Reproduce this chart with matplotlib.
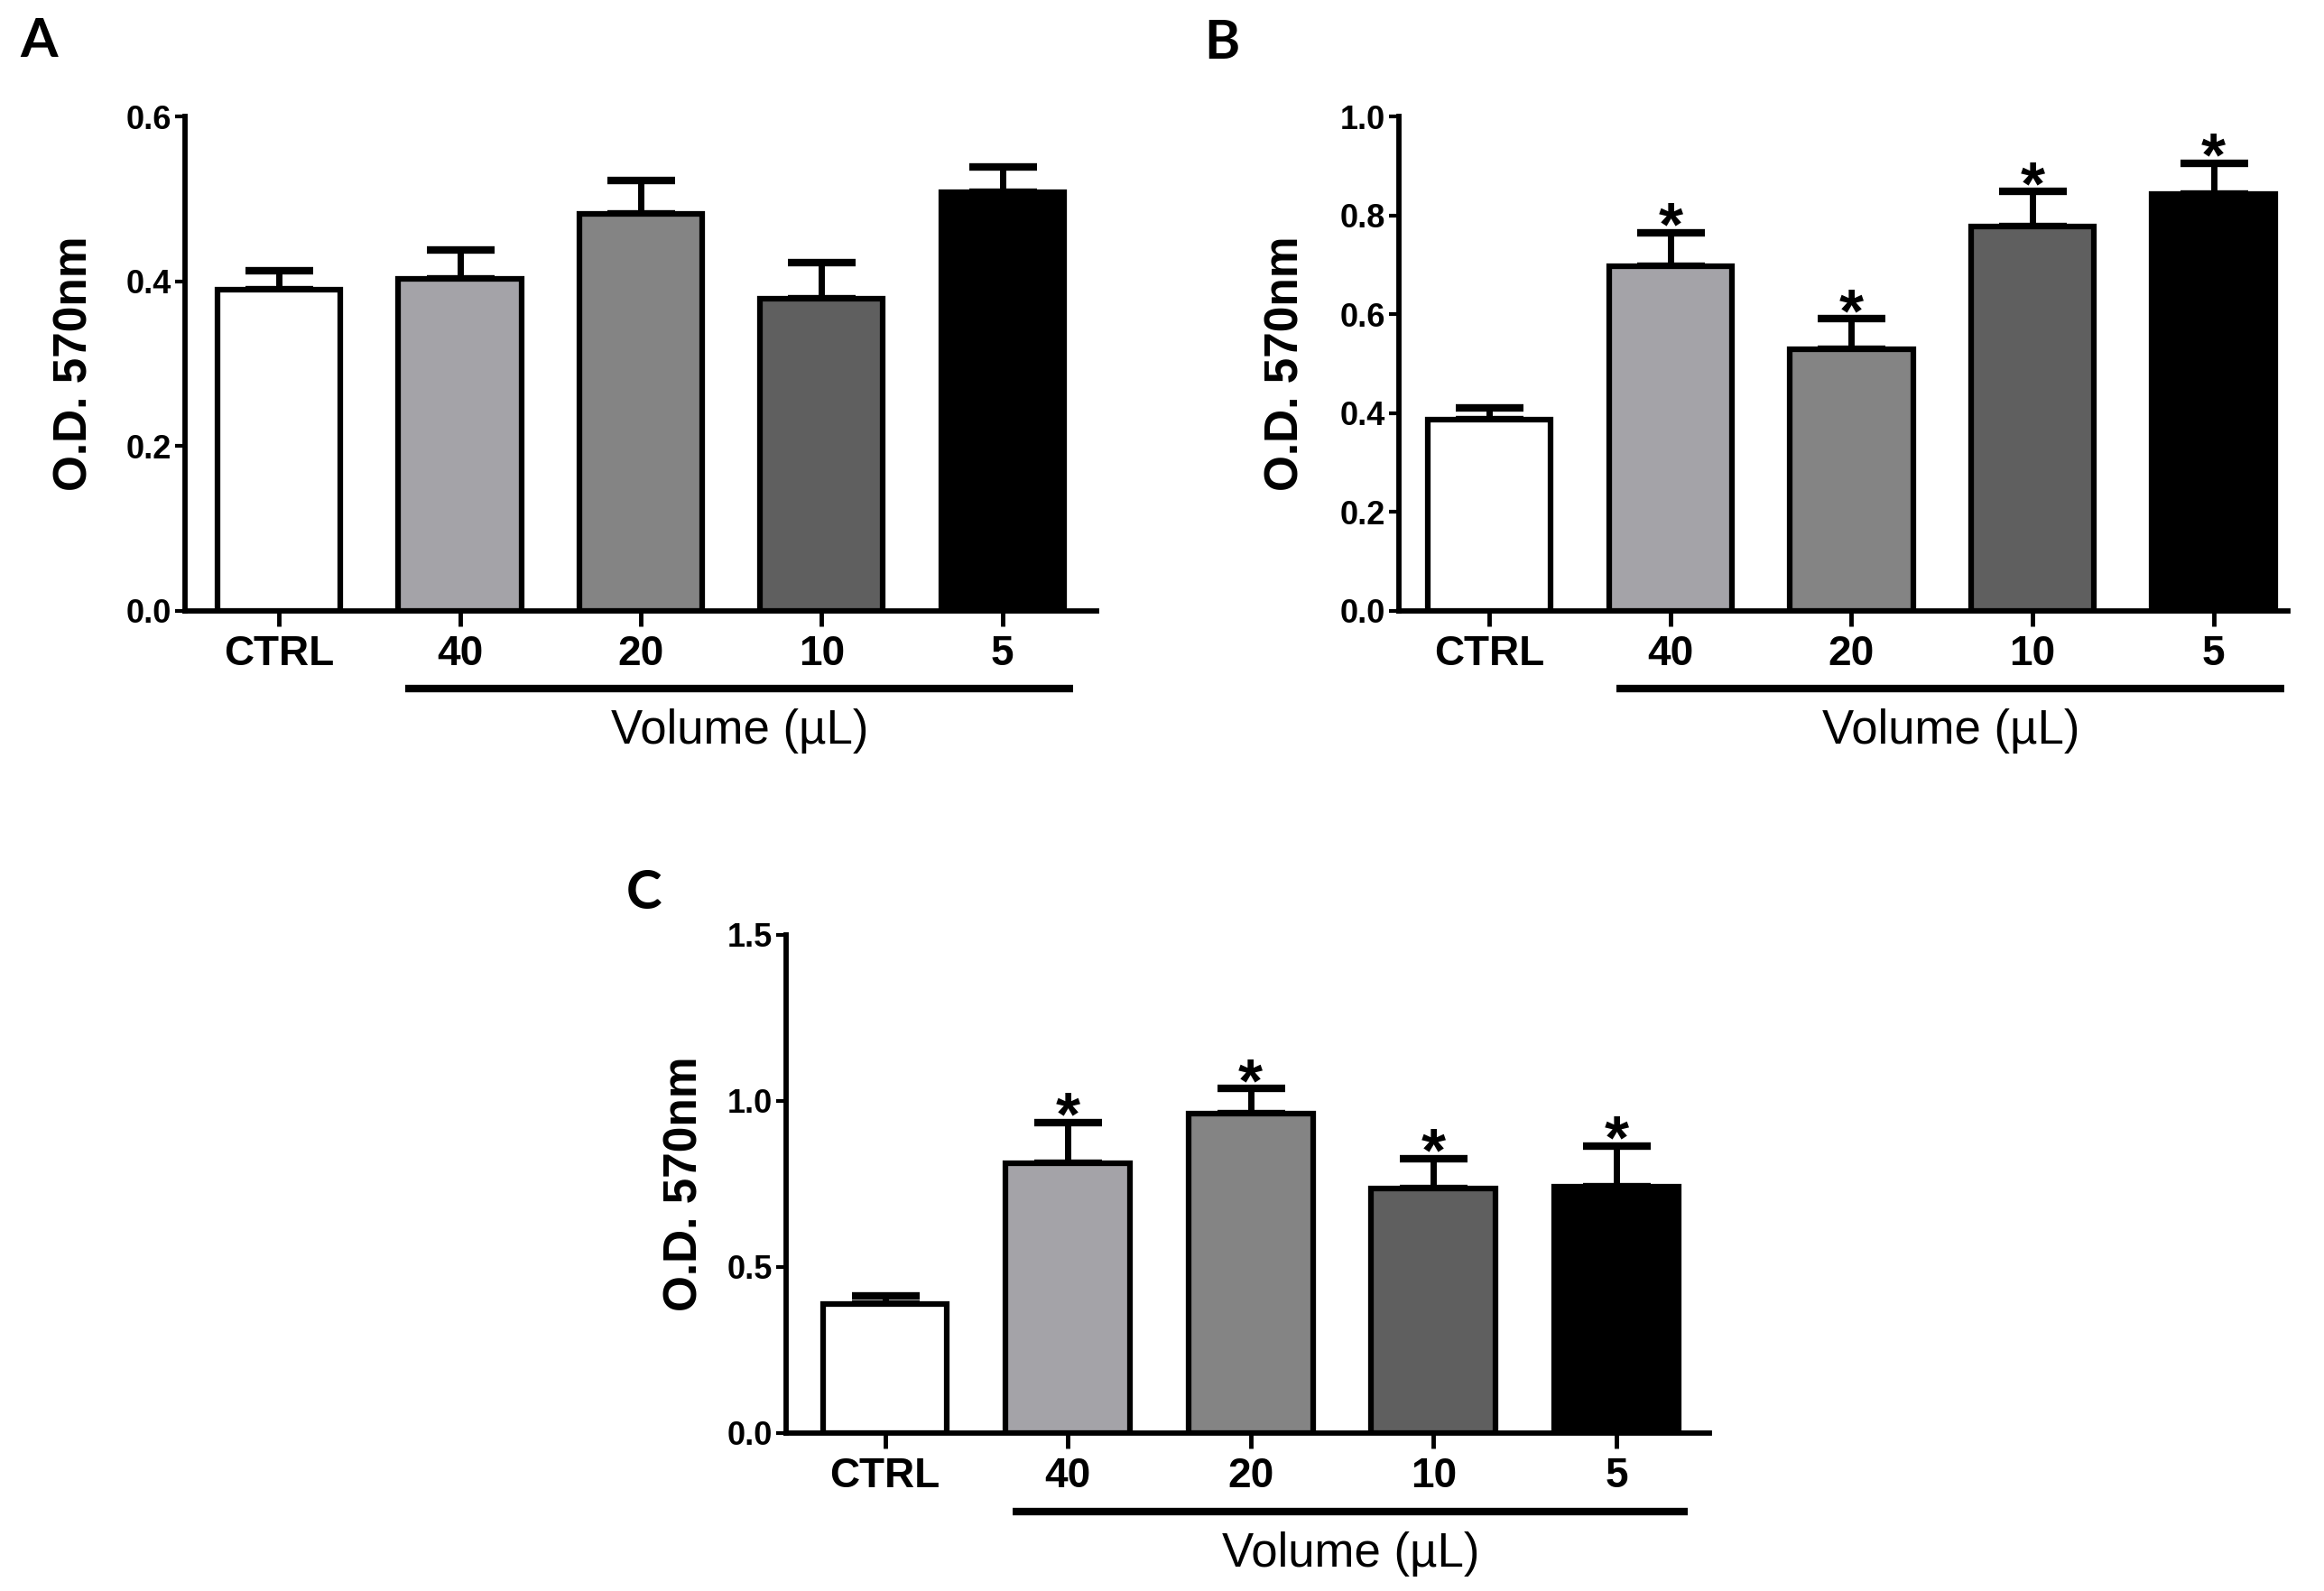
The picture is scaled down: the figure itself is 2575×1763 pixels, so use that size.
import numpy as np
import matplotlib.pyplot as plt

# values
categories = ['CTRL', '40', '20', '10', '5']
bar_colors = ['#ffffff', '#a4a3a8', '#848484', '#5f5f5f', '#000000']

a_mean = [0.390, 0.403, 0.482, 0.379, 0.508]
a_err = [0.023, 0.035, 0.040, 0.044, 0.031]
a_sig = [False, False, False, False, False]

b_mean = [0.387, 0.697, 0.530, 0.777, 0.844]
b_err = [0.024, 0.068, 0.061, 0.071, 0.062]
b_sig = [False, True, True, True, True]

c_mean = [0.389, 0.8125, 0.9625, 0.736, 0.743]
c_err = [0.023, 0.1225, 0.075, 0.090, 0.122]
c_sig = [False, True, True, True, True]

FONT = 'Liberation Sans'

fig = plt.figure(figsize=(25.75, 17.63), dpi=100)


def panel(rect, means, errs, sig, ymax, yticks, xlim, ylab_x):
    ax = fig.add_axes(rect)
    x = np.arange(len(categories))
    ax.errorbar(x, means, yerr=[np.zeros(len(errs)), errs], fmt='none',
                ecolor='black', elinewidth=5, capsize=27, capthick=6, zorder=1)
    ax.bar(x, means, width=0.68, color=bar_colors, edgecolor='black',
           linewidth=4.5, zorder=2)
    for xi, m, e, s in zip(x, means, errs, sig):
        if s:
            ax.annotate('*', xy=(xi, m + e), xytext=(0, -10),
                        textcoords='offset points', ha='center', va='baseline',
                        fontsize=50, fontweight='bold', family=FONT)
    ax.set_xlim(*xlim)
    ax.set_ylim(0, ymax)
    ax.set_yticks(yticks)
    ax.set_yticklabels(['%.1f' % t for t in yticks], fontsize=26,
                       fontweight='bold', family=FONT)
    ax.set_xticks(x)
    ax.set_xticklabels(categories, fontsize=33, fontweight='bold', family=FONT)
    for sp in ['top', 'right']:
        ax.spines[sp].set_visible(False)
    for sp in ['left', 'bottom']:
        ax.spines[sp].set_linewidth(4.2)
    ax.tick_params(axis='y', direction='out', length=8, width=3, pad=3)
    ax.tick_params(axis='x', direction='out', length=12, width=3.5, pad=7)
    ax.text(ylab_x, 0.5, 'O.D. 570nm', transform=ax.transAxes, rotation=90,
            ha='center', va='center', fontsize=37, fontweight='bold',
            family=FONT)
    # group bar under the volume categories
    ax.plot([0.70, 4.39], [-0.157, -0.157], color='black', lw=6,
            transform=ax.get_xaxis_transform(), clip_on=False,
            solid_capstyle='butt')
    ax.text(2.55, -0.243, 'Volume (\u00b5L)', transform=ax.get_xaxis_transform(),
            ha='center', va='center', fontsize=38, family=FONT)
    return ax


panel([0.0796, 0.616, 0.3922, 0.3108], a_mean, a_err, a_sig, 0.6,
      [0.0, 0.2, 0.4, 0.6], (-0.52, 4.52), -0.121)
panel([0.6019, 0.616, 0.3825, 0.3108], b_mean, b_err, b_sig, 1.0,
      [0.0, 0.2, 0.4, 0.6, 0.8, 1.0], (-0.50, 4.41), -0.127)
panel([0.3383, 0.0993, 0.3973, 0.3131], c_mean, c_err, c_sig, 1.5,
      [0.0, 0.5, 1.0, 1.5], (-0.54, 4.51), -0.110)

for lab, px, py in [('A', 0.0085, 0.964), ('B', 0.518, 0.963), ('C', 0.2695, 0.4288)]:
    fig.text(px, py, lab, fontsize=43, fontweight='bold', family='Lato',
             ha='left', va='baseline')

fig.savefig('out.png', dpi=100)
